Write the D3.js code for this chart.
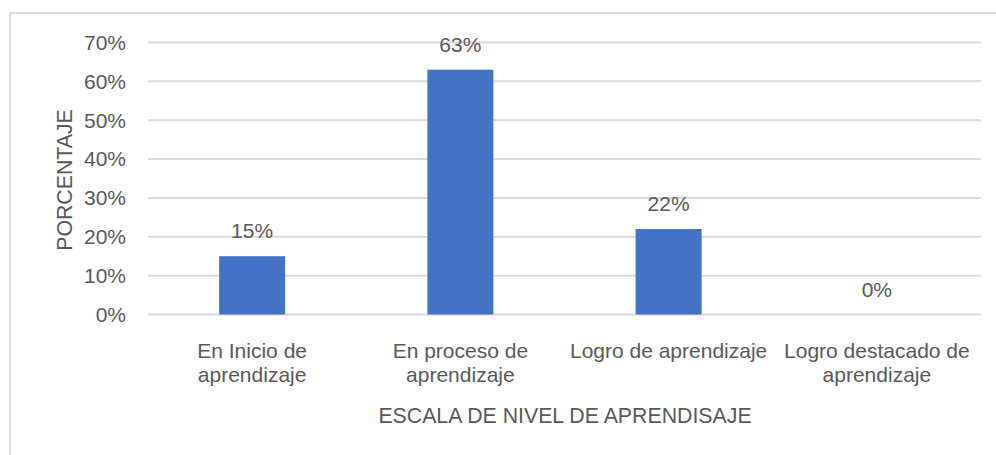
<!DOCTYPE html>
<html>
<head>
<meta charset="utf-8">
<script src="https://cdn.jsdelivr.net/npm/d3@7"></script>
<style>
  body { margin: 0; background: #fff; }
  text { font-family: "Liberation Sans", Arial, sans-serif; fill: #595959; }
</style>
</head>
<body>
<div id="chart"></div>
<script>
// data
const categories = [
  ["En Inicio de", "aprendizaje"],
  ["En proceso de", "aprendizaje"],
  ["Logro de aprendizaje"],
  ["Logro destacado de", "aprendizaje"]
];
const values = [15, 63, 22, 0];
const yTicks = [0, 10, 20, 30, 40, 50, 60, 70];

const width = 996;
const height = 455;
const fontSize = 21;

const svg = d3.select("#chart")
  .append("svg")
  .attr("width", width)
  .attr("height", height);

// outer frame
svg.append("rect")
  .attr("x", 10).attr("y", 13)
  .attr("width", 1000).attr("height", 500)
  .attr("fill", "none")
  .attr("stroke", "#d9d9d9")
  .attr("stroke-width", 2);

const plotLeft = 148, plotRight = 981, plotTop = 42.5, plotBottom = 314.5;

const x = d3.scaleBand()
  .domain(d3.range(categories.length))
  .range([plotLeft, plotRight])
  .paddingInner(0.683)
  .paddingOuter(0.3415);

const y = d3.scaleLinear()
  .domain([0, 70])
  .range([plotBottom, plotTop]);

// gridlines
svg.append("g")
  .selectAll("line")
  .data(yTicks)
  .join("line")
  .attr("x1", plotLeft).attr("x2", plotRight)
  .attr("y1", d => y(d)).attr("y2", d => y(d))
  .attr("stroke", "#d9d9d9")
  .attr("stroke-width", 2);

// y tick labels
svg.append("g")
  .selectAll("text")
  .data(yTicks)
  .join("text")
  .attr("x", 126)
  .attr("y", d => y(d))
  .attr("dy", "0.35em")
  .attr("text-anchor", "end")
  .attr("font-size", fontSize)
  .text(d => d + "%");

// bars
svg.append("g")
  .selectAll("rect")
  .data(values)
  .join("rect")
  .attr("x", (d, i) => x(i))
  .attr("y", d => y(d))
  .attr("width", x.bandwidth())
  .attr("height", d => y(0) - y(d))
  .attr("fill", "#4472c4");

// data labels
svg.append("g")
  .selectAll("text")
  .data(values)
  .join("text")
  .attr("x", (d, i) => x(i) + x.bandwidth() / 2)
  .attr("y", d => y(d) - 18)
  .attr("text-anchor", "middle")
  .attr("font-size", fontSize)
  .text(d => d + "%");

// category labels
const cat = svg.append("g")
  .selectAll("text")
  .data(categories)
  .join("text")
  .attr("x", (d, i) => x(i) + x.bandwidth() / 2)
  .attr("y", 358)
  .attr("text-anchor", "middle")
  .attr("font-size", fontSize);

cat.selectAll("tspan")
  .data(d => d)
  .join("tspan")
  .attr("x", function() { return d3.select(this.parentNode).attr("x"); })
  .attr("dy", (d, i) => i === 0 ? 0 : 23.5)
  .text(d => d);

// axis titles
svg.append("text")
  .attr("x", 565)
  .attr("y", 423)
  .attr("text-anchor", "middle")
  .attr("font-size", 21.3)
  .text("ESCALA DE NIVEL DE APRENDISAJE");

svg.append("text")
  .attr("transform", "translate(72,180) rotate(-90)")
  .attr("text-anchor", "middle")
  .attr("font-size", 21.3)
  .text("PORCENTAJE");
</script>
</body>
</html>
